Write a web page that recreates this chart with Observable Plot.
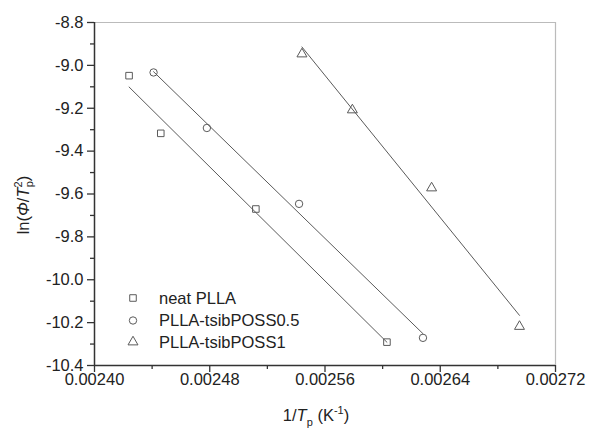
<!DOCTYPE html>
<html><head><meta charset="utf-8">
<script src="https://cdn.jsdelivr.net/npm/d3@7"></script>
<script src="https://cdn.jsdelivr.net/npm/@observablehq/plot@0.6"></script>
<style>body{margin:0;background:#fff}#chart{width:590px;height:429px}</style>
</head><body><div id="chart"></div>
<script>
const series = ["neat PLLA", "PLLA-tsibPOSS0.5", "PLLA-tsibPOSS1"];
const symbols = ["square", "circle", "triangle"];
const neatX = [0.002424, 0.002446, 0.002512, 0.002603];
const neatY = [-9.048, -9.317, -9.670, -10.291];
const p05X = [0.002441, 0.002478, 0.002542, 0.002628];
const p05Y = [-9.033, -9.292, -9.646, -10.271];
const p1X = [0.002544, 0.002579, 0.002634, 0.002695];
const p1Y = [-8.947, -9.208, -9.572, -10.218];
const xTicks = [0.00240, 0.00248, 0.00256, 0.00264, 0.00272];
const xMinor = [0.00244, 0.00252, 0.00260, 0.00268];
const yTicks = [-8.8, -9.0, -9.2, -9.4, -9.6, -9.8, -10.0, -10.2, -10.4];
const yMinor = [-8.9, -9.1, -9.3, -9.5, -9.7, -9.9, -10.1, -10.3];

const xs = [neatX, p05X, p1X], ys = [neatY, p05Y, p1Y];
const data = series.flatMap((s, i) => xs[i].map((x, j) => ({x, y: ys[i][j], series: s})));

const gray = "#5a5a5a";
const axisColor = "#333";
const font = "'Liberation Sans', Arial, sans-serif";

const plot = Plot.plot({
  width: 590, height: 429,
  marginLeft: 94, marginRight: 35, marginTop: 22, marginBottom: 64,
  style: {fontFamily: font, fontSize: "16.5px", color: "#222", background: "#fff"},
  x: {domain: [0.00240, 0.00272]},
  y: {domain: [-10.4, -8.8]},
  symbol: {domain: series, range: symbols},
  marks: [
    Plot.ruleY([-8.8], {stroke: "#bbb", strokeWidth: 1.2}),
    Plot.ruleX([0.00272], {stroke: "#bbb", strokeWidth: 1.2}),
    Plot.axisX({ticks: xTicks, tickFormat: d => d.toFixed(5), tickSize: 7, tickPadding: 1, label: null, stroke: axisColor, strokeWidth: 1.3}),
    Plot.axisX({ticks: xMinor, tickFormat: () => "", tickSize: 4, label: null, stroke: axisColor, strokeWidth: 1.3}),
    Plot.axisY({ticks: yTicks, tickFormat: d => d.toFixed(1), tickSize: 7, tickPadding: 4, label: null, stroke: axisColor, strokeWidth: 1.3}),
    Plot.axisY({ticks: yMinor, tickFormat: () => "", tickSize: 4, label: null, stroke: axisColor, strokeWidth: 1.3}),
    Plot.ruleX([0.00240], {stroke: axisColor, strokeWidth: 1.5}),
    Plot.ruleY([-10.4], {stroke: axisColor, strokeWidth: 1.5}),
    Plot.linearRegressionY(data, {x: "x", y: "y", z: "series", stroke: gray, strokeWidth: 1, ci: 0}),
    Plot.dot(data, {x: "x", y: "y", symbol: "series", r: 3.7, stroke: gray, strokeWidth: 1, fill: "none"})
  ]
});
document.getElementById("chart").appendChild(plot);

const svg = d3.select(plot);
// x axis label
const xl = svg.append("text").attr("x", 316).attr("y", 421).attr("text-anchor", "middle")
  .attr("font-family", font).attr("font-size", 16.5).attr("fill", "#222");
xl.append("tspan").text("1/");
xl.append("tspan").attr("font-style", "italic").text("T");
xl.append("tspan").attr("font-size", 11).attr("dy", 5).text("p");
xl.append("tspan").attr("dy", -5).text(" (K");
xl.append("tspan").attr("font-size", 11).attr("dy", -7).text("-1");
xl.append("tspan").attr("dy", 7).text(")");

// y axis label
const yl = svg.append("text").attr("transform", "translate(29,205) rotate(-90)").attr("text-anchor", "middle")
  .attr("font-family", font).attr("font-size", 16.5).attr("fill", "#222");
yl.append("tspan").text("ln(");
yl.append("tspan").attr("font-style", "italic").text("Φ");
yl.append("tspan").text("/");
yl.append("tspan").attr("font-style", "italic").text("T");
yl.append("tspan").attr("font-size", 11).attr("dy", -7).text("2");
yl.append("tspan").attr("font-size", 11).attr("dx", -6).attr("dy", 11).text("p");
yl.append("tspan").attr("dy", -4).text(")");

// legend
const legendY = [298, 320.5, 342];
const lg = svg.append("g");
series.forEach((s, i) => {
  const sym = {square: d3.symbolSquare, circle: d3.symbolCircle, triangle: d3.symbolTriangle}[symbols[i]];
  lg.append("path").attr("d", d3.symbol(sym, Math.PI * 3.7 * 3.7)())
    .attr("transform", `translate(133,${legendY[i]})`)
    .attr("fill", "none").attr("stroke", gray).attr("stroke-width", 1);
  lg.append("text").attr("x", 159).attr("y", legendY[i]).attr("dy", "0.35em")
    .attr("text-anchor", "start")
    .attr("font-family", font).attr("font-size", 16.5).attr("fill", "#222").text(s);
});
</script>
</body></html>
